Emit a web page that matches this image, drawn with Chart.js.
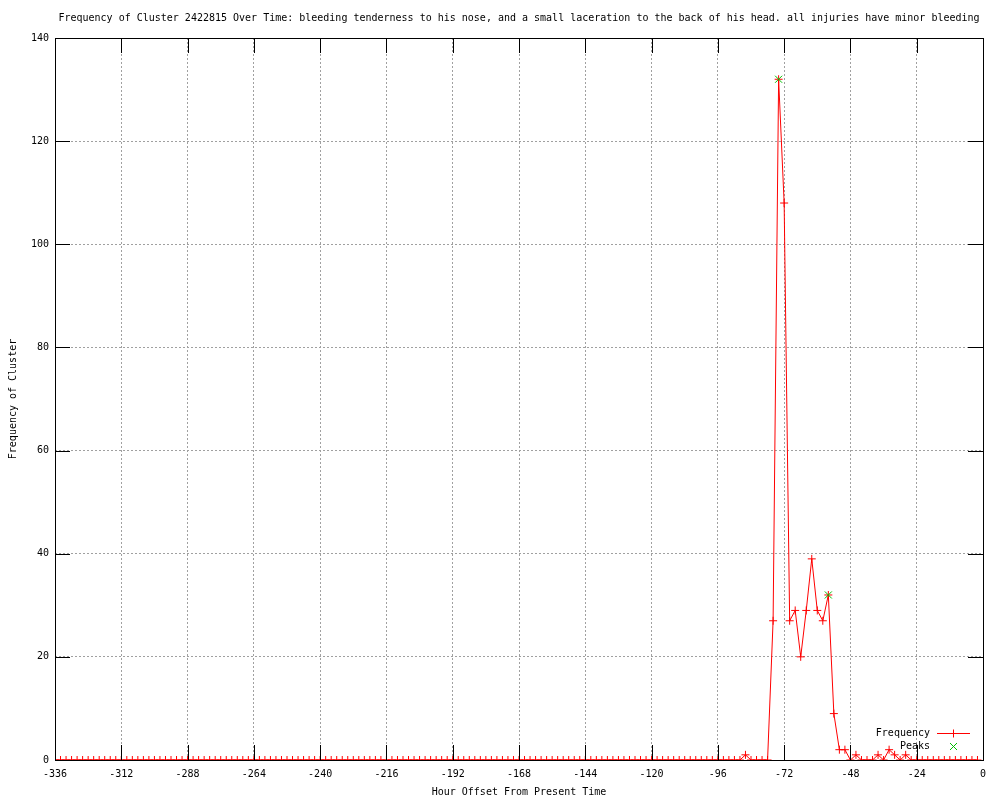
<!DOCTYPE html>
<html>
<head>
<meta charset="utf-8">
<script src="https://cdn.jsdelivr.net/npm/chart.js@4/dist/chart.umd.min.js"></script>
<style>
  body { margin: 0; background: #fff; }
  #wrap { width: 1000px; height: 800px; }
</style>
</head>
<body>
<div id="wrap"><canvas id="chart" width="1000" height="800"></canvas></div>
<script>
// hour offsets, one sample every 2 hours
const hours = [];
for (let h = -336; h <= -2; h += 2) hours.push(h);

// frequency per sample (-336 .. -2)
const frequency = [
  0,0,0,0,0,0,0,0,0,0,0,0,0,0,0,0,0,0,0,0,0,0,0,0,
  0,0,0,0,0,0,0,0,0,0,0,0,0,0,0,0,0,0,0,0,0,0,0,0,
  0,0,0,0,0,0,0,0,0,0,0,0,0,0,0,0,0,0,0,0,0,0,0,0,
  0,0,0,0,0,0,0,0,0,0,0,0,0,0,0,0,0,0,0,0,0,0,0,0,
  0,0,0,0,0,0,0,0,0,0,0,0,0,0,0,0,0,0,0,0,0,0,0,0,
  0,0,0,0,0,1,0,0,0,0,27,132,108,27,29,20,29,39,29,27,32,9,2,2,
  0,1,0,0,0,1,0,2,1,0,1,0,0,0,0,0,0,0,0,0,0,0,0,0
];

const peakHours = [-74, -56];
const peakValues = [132, 32];

const xTicks = [-336, -312, -288, -264, -240, -216, -192, -168, -144, -120, -96, -72, -48, -24, 0];
const yTicks = [0, 20, 40, 60, 80, 100, 120, 140];

const RED = '#ff0000';
const GREEN = '#00c000';
const FONT = { family: "'DejaVu Sans Mono', monospace", size: 10, weight: 'normal' };

// gnuplot style frame: border, mirrored tics, key in lower right
const framePlugin = {
  id: 'frame',
  afterDatasetsDraw(chart) {
    const { ctx, chartArea: a, scales } = chart;
    const tl = 15;
    ctx.save();
    ctx.strokeStyle = '#000';
    ctx.lineWidth = 1;
    ctx.beginPath();
    scales.x.ticks.forEach(t => {
      const px = Math.round(scales.x.getPixelForValue(t.value)) + 0.5;
      ctx.moveTo(px, a.bottom); ctx.lineTo(px, a.bottom - tl);
      ctx.moveTo(px, a.top); ctx.lineTo(px, a.top + tl);
    });
    scales.y.ticks.forEach(t => {
      const py = Math.round(scales.y.getPixelForValue(t.value)) + 0.5;
      ctx.moveTo(a.left, py); ctx.lineTo(a.left + tl, py);
      ctx.moveTo(a.right, py); ctx.lineTo(a.right - tl, py);
    });
    ctx.stroke();
    ctx.strokeRect(Math.round(a.left) + 0.5, Math.round(a.top) + 0.5,
      Math.round(a.right - a.left), Math.round(a.bottom - a.top));

    // key
    const ds = chart.data.datasets;
    ctx.font = "10px 'DejaVu Sans Mono', monospace";
    ctx.fillStyle = '#000';
    ctx.textAlign = 'right';
    ctx.textBaseline = 'middle';
    const tx = 930, sx0 = 937, sx1 = 970, mx = 953.5;
    let y = 733.5;
    ctx.fillText(ds[0].label, tx, y);
    ctx.strokeStyle = RED;
    ctx.beginPath();
    ctx.moveTo(sx0, y); ctx.lineTo(sx1, y);
    ctx.moveTo(mx, y - 4); ctx.lineTo(mx, y + 4);
    ctx.stroke();
    y = 746.5;
    ctx.fillText(ds[1].label, tx, y);
    ctx.strokeStyle = GREEN;
    ctx.beginPath();
    ctx.moveTo(mx - 3.5, y - 3.5); ctx.lineTo(mx + 3.5, y + 3.5);
    ctx.moveTo(mx - 3.5, y + 3.5); ctx.lineTo(mx + 3.5, y - 3.5);
    ctx.stroke();
    ctx.restore();
  }
};

new Chart(document.getElementById('chart'), {
  type: 'line',
  data: {
    datasets: [
      {
        label: 'Frequency',
        order: 1,
        data: hours.map((h, i) => ({ x: h, y: frequency[i] })),
        borderColor: RED,
        borderWidth: 1,
        pointStyle: 'cross',
        pointRadius: 4,
        pointBorderColor: RED,
        pointBorderWidth: 1,
        pointBackgroundColor: 'rgba(0,0,0,0)',
        tension: 0,
        fill: false
      },
      {
        label: 'Peaks',
        order: 0,
        data: peakHours.map((h, i) => ({ x: h, y: peakValues[i] })),
        showLine: false,
        pointStyle: 'crossRot',
        pointRadius: 5,
        pointBorderColor: GREEN,
        pointBorderWidth: 1,
        pointBackgroundColor: 'rgba(0,0,0,0)'
      }
    ]
  },
  options: {
    responsive: false,
    animation: false,
    devicePixelRatio: 1,
    layout: { padding: { left: 0, right: 17, top: 0, bottom: 0 } },
    plugins: {
      legend: { display: false },
      tooltip: { enabled: false },
      title: {
        display: true,
        fullSize: false,
        text: 'Frequency of Cluster 2422815 Over Time: bleeding tenderness to his nose, and a small laceration to the back of his head. all injuries have minor bleeding',
        color: '#000',
        font: FONT,
        padding: { top: 12, bottom: 14 }
      }
    },
    scales: {
      x: {
        type: 'linear',
        min: -336,
        max: 0,
        afterBuildTicks(scale) { scale.ticks = xTicks.map(v => ({ value: v })); },
        afterFit(scale) { scale.height = 40; },
        ticks: { color: '#000', font: FONT, padding: 8, maxRotation: 0, autoSkip: false },
        grid: { color: '#a0a0a0', drawTicks: false, lineWidth: 1 },
        border: { display: false, dash: [2, 2] },
        title: {
          display: true,
          text: 'Hour Offset From Present Time',
          color: '#000',
          font: FONT,
          padding: { top: 0, bottom: 2 }
        }
      },
      y: {
        min: 0,
        max: 140,
        afterBuildTicks(scale) { scale.ticks = yTicks.map(v => ({ value: v })); },
        afterFit(scale) { scale.width = 55; },
        ticks: { color: '#000', font: FONT, padding: 6 },
        grid: { color: '#a0a0a0', drawTicks: false, lineWidth: 1 },
        border: { display: false, dash: [2, 2] },
        title: {
          display: true,
          text: 'Frequency of Cluster',
          color: '#000',
          font: FONT,
          padding: { top: 7, bottom: 0 }
        }
      }
    }
  },
  plugins: [framePlugin]
});
</script>
</body>
</html>
